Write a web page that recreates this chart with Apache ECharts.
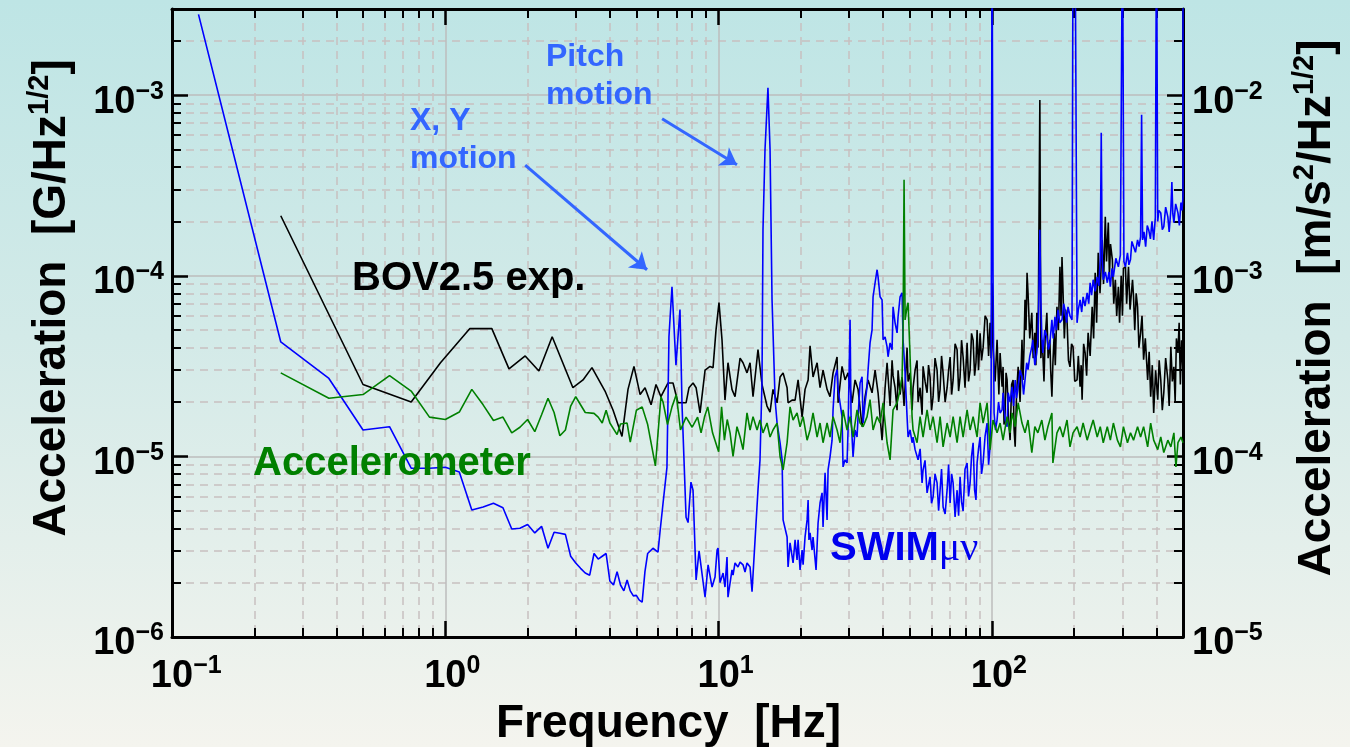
<!DOCTYPE html>
<html><head><meta charset="utf-8">
<script src="https://cdn.jsdelivr.net/npm/echarts@6/dist/echarts.min.js"></script>
<style>
html,body{margin:0;padding:0;}
#c{width:1350px;height:747px;background:linear-gradient(to bottom,#bee5e5 0%,#d3eae8 45%,#f4f4ee 100%);}
</style></head><body><div id="c"></div>
<script>
// ---------- data (frequency [Hz], acceleration [G/Hz^1/2]) ----------
const swimData = [
[0.125,2.8e-3],[0.25,4.3e-5],[0.375,2.7e-5],[0.5,1.4e-5],[0.625,1.46e-5],[0.75,8.6e-6],[0.875,8.6e-6],[1.0,8.7e-6],
[1.125,8.2e-6],[1.25,5.05e-6],[1.375,5.25e-6],[1.5,5.5e-6],[1.625,5.2e-6],[1.75,3.96e-6],[1.875,4.0e-6],[2.0,4.2e-6],
[2.125,3.77e-6],[2.25,4.1e-6],[2.375,3.1e-6],[2.5,3.8e-6],[2.625,3.75e-6],[2.75,3.7e-6],[2.875,2.8e-6],[3.0,2.57e-6],
[3.125,2.4e-6],[3.25,2.26e-6],[3.375,2.2e-6],[3.5,2.9e-6],[3.625,2.7e-6],[3.75,2.8e-6],[3.875,2.9e-6],[4.0,2.04e-6],
[4.125,1.94e-6],[4.25,2.3e-6],[4.375,1.94e-6],[4.5,1.8e-6],[4.625,2.07e-6],[4.75,1.8e-6],[4.875,1.69e-6],[5.0,1.7e-6],
[5.125,1.6e-6],[5.25,1.56e-6],[5.375,2.3e-6],[5.5,2.9e-6],[5.75,3.1e-6],[6.0,2.95e-6],[6.1,3.8e-6],[6.26,5.5e-6],
[6.47,8.7e-6],[6.58,4.6e-5],[6.75,8.7e-5],[6.98,3.2e-5],[7.22,6.5e-5],[7.35,1.88e-5],[7.6,4.6e-6],[7.73,4.3e-6],
[7.92,7.2e-6],[8.06,6.5e-6],[8.27,2.07e-6],[8.48,3.0e-6],[8.92,1.66e-6],[9.15,2.51e-6],[9.46,1.89e-6],[9.7,2.15e-6],
[9.87,3.03e-6],[9.95,3.11e-6],[10.12,2.0e-6],[10.38,2.26e-6],[10.55,1.89e-6],[10.73,2.77e-6],[10.82,1.66e-6],[11.19,2.35e-6],
[11.29,2.2e-6],[11.48,2.57e-6],[11.77,2.44e-6],[11.98,2.6e-6],[12.28,2.51e-6],[12.49,2.29e-6],[12.7,2.57e-6],[13.03,2.44e-6],
[13.25,1.78e-6],[13.36,1.78e-6],[13.59,3.45e-6],[13.93,6.52e-6],[14.17,9.57e-6],[14.41,2.6e-5],[14.53,1.8e-4],[14.78,5.0e-4],
[15.15,1.1e-3],[15.42,5.0e-4],[15.68,7.4e-5],[16.09,2.06e-5],[16.36,1.53e-5],[16.78,1.19e-5],[17.07,9.57e-6],[17.21,4.45e-6],
[17.8,3.58e-6],[17.95,2.44e-6],[18.25,3.32e-6],[18.72,2.57e-6],[19.04,3.45e-6],[19.36,2.67e-6],[19.53,3.45e-6],[19.86,2.35e-6],
[20.2,3.03e-6],[20.37,2.51e-6],[20.71,3.58e-6],[21.07,4.45e-6],[21.25,5.74e-6],[21.4,3.45e-6],[21.6,3.77e-6],[21.97,3.03e-6],
[22.15,3.58e-6],[22.72,2.35e-6],[23.11,4.28e-6],[23.5,5.52e-6],[23.9,6.28e-6],[24.1,4.07e-6],[24.51,8.11e-6],[24.93,4.45e-6],
[25.14,8.41e-6],[25.56,9.94e-6],[26.0,1.23e-5],[26.22,1.81e-5],[26.66,2.76e-5],[27.12,3.02e-5],[27.35,2.34e-5],[28.28,1.66e-5],
[28.52,8.75e-6],[29.01,9.57e-6],[29.5,9.2e-6],[29.75,1.4e-5],[30.26,5.7e-5],[30.51,1.66e-5],[31.03,9.94e-6],[31.56,1.4e-5],
[32.09,1.28e-5],[32.37,1.66e-5],[32.92,2.55e-5],[33.48,2.76e-5],[33.76,1.53e-5],[34.34,1.98e-5],[34.92,2.43e-5],[35.22,3.02e-5],
[35.81,4.25e-5],[36.42,5.02e-5],[36.73,7.65e-5],[37.36,9.15e-5],[37.99,1.08e-4],[38.31,9.87e-5],[38.96,7.65e-5],[39.62,7.36e-5],
[39.96,4.42e-5],[40.64,4.59e-5],[41.33,4.04e-5],[41.68,3.56e-5],[42.39,4.25e-5],[43.11,3.89e-5],[43.47,6.73e-5],[44.21,5.49e-5],
[44.96,4.83e-5],[45.34,5.93e-5],[46.12,7.65e-5],[46.9,8.05e-5],[47.29,4.42e-5],[48.1,2.9e-5],[48.91,1.66e-5],[49.33,1.28e-5],
[50.17,1.4e-5],[51.02,1.19e-5],[51.45,1.28e-5],[52.33,1.09e-5],[53.66,9.57e-6],[54.6,1.1e-5],[55.5,7.13e-6],[55.97,8.41e-6],
[56.9,9.5e-6],[57.89,6.28e-6],[59.35,7.7e-6],[60.1,5.5e-6],[60.9,5.97e-6],[61.9,8.0e-6],[62.98,7.13e-6],[63.8,5.0e-6],
[64.6,6.52e-6],[65.4,8.5e-6],[66.26,5.25e-6],[67.4,4.8e-6],[68.53,6.52e-6],[69.4,9.0e-6],[70.29,5.52e-6],[71.2,8.0e-6],
[72.09,7.13e-6],[73.3,4.62e-6],[74.55,6.5e-6],[75.5,4.7e-6],[76.45,7.7e-6],[77.4,5.6e-6],[78.42,4.98e-6],[79.7,8.5e-6],
[81.1,9.2e-6],[82.1,6.0e-6],[83.18,7.13e-6],[84.2,1.0e-5],[85.32,1.19e-5],[86.4,6.5e-6],[87.4,5.74e-6],[88.23,9.2e-6],
[89.3,1.1e-5],[90.49,1.28e-5],[91.6,8.0e-6],[92.81,9.2e-6],[94.4,1.3e-5],[95.99,1.53e-5],[97.2,9.0e-6],[98.45,1.13e-5],
[99.3,2.14e-5],[100.1,1e-2],[100.9,9.87e-5],[101.8,1.74e-5],[103,1.4e-5],[104.4,1.59e-5],[105.7,2.0e-5],[107.1,1.74e-5],
[108.9,1.81e-5],[109.8,2.25e-5],[111.7,1.6e-5],[113.6,1.46e-5],[114.6,2.25e-5],[116.5,2.0e-5],[118.5,2.43e-5],[120,1.9e-5],
[121.6,2.65e-5],[123,2.1e-5],[124.7,2.43e-5],[126.7,3.0e-5],[128.8,2.76e-5],[130.5,2.2e-5],[132.1,2.65e-5],[134,3.3e-5],
[135.5,3.02e-5],[137.6,3.6e-5],[139.9,4.04e-5],[141.1,4.42e-5],[143.5,3.2e-5],[145.9,3.74e-5],[147.2,4.4e-5],[148.4,7.36e-5],
[149.7,1.8e-4],[151,7.36e-5],[152.2,4.59e-5],[153.5,3.74e-5],[156,5.0e-5],[158.8,4.59e-5],[160.8,3.9e-5],[162.9,4.25e-5],
[165.7,5.7e-5],[167.5,4.5e-5],[170.0,5.93e-5],[172,5.0e-5],[174.4,6.48e-5],[177,5.5e-5],[180.4,5.7e-5],[183,7.0e-5],
[185.0,6.48e-5],[187.5,5.5e-5],[189.8,6.73e-5],[193,6.0e-5],[196.3,5.7e-5],[198.0,1e-2],[201.4,1e-2],[204.8,5.49e-5],
[207,6.5e-5],[210.1,7.36e-5],[213,6.3e-5],[215.5,7.65e-5],[219,6.8e-5],[223.0,8.05e-5],[226,7.0e-5],[228.7,9.15e-5],
[231.5,7.8e-5],[234.6,9.51e-5],[238.6,8.2e-5],[242.7,9.87e-5],[246,8.8e-5],[249.0,1.23e-4],[251.1,6.2e-4],[253.2,1.23e-4],
[255.4,9.51e-5],[260,1.05e-4],[264.2,9.15e-5],[268,1.05e-4],[271.1,8.69e-5],[275,1.1e-4],[278.1,9.87e-5],[284,1.25e-4],
[290.1,1.12e-4],[295,1.3e-4],[300.2,1e-2],[304,1.2e-4],[307.9,1.12e-4],[313.2,1.34e-4],[317,1.15e-4],[321.3,1.23e-4],
[325,1.55e-4],[329.6,1.52e-4],[335,1.35e-4],[341.0,1.58e-4],[345.5,1.45e-4],[349.8,1.64e-4],[352.8,7.8e-4],[355.8,1.58e-4],
[360,1.75e-4],[365.0,1.45e-4],[370,1.9e-4],[374.4,1.8e-4],[380,1.6e-4],[385,2.0e-4],[390.6,1.58e-4],[396,2.1e-4],
[400,1e-2],[404.1,2.0e-4],[408,2.3e-4],[414.6,2.23e-4],[420,1.8e-4],[425.3,1.87e-4],[432,2.4e-4],[440.1,2.12e-4],
[445,1.75e-4],[451.4,2.32e-4],[455.3,3.3e-4],[459,2.2e-4],[463.1,1.97e-4],[470,2.5e-4],[479.2,2.23e-4],[485,1.9e-4],
[491.5,2.54e-4],[496,2.3e-4],[499.9,2.74e-4],[500,1e-2]
];

const bovData = [
[0.25,2.15e-4],[0.5,2.5e-5],[0.75,2.0e-5],[0.96,3.3e-5],[1.23,5.1e-5],[1.48,5.1e-5],[1.71,3.05e-5],[1.96,3.6e-5],
[2.2,2.97e-5],[2.46,4.6e-5],[2.93,2.4e-5],[3.19,2.65e-5],[3.44,3.1e-5],[3.84,2.3e-5],[4.11,1.8e-5],[4.43,1.29e-5],
[4.66,2.35e-5],[4.9,3.15e-5],[5.16,2.2e-5],[5.38,2.4e-5],[5.66,1.93e-5],[5.9,2.5e-5],[6.15,2.14e-5],[6.53,2.55e-5],
[6.81,2.55e-5],[7.1,1.98e-5],[7.6,1.98e-5],[7.79,2.4e-5],[8.06,2.55e-5],[8.27,2.4e-5],[8.55,1.74e-5],[8.92,3.0e-5],
[9.3,3.15e-5],[9.54,3.1e-5],[9.78,5.0e-5],[10.03,7.1e-5],[10.29,4.4e-5],[10.55,2.05e-5],[10.82,3.3e-5],[11.19,2.35e-5],
[11.48,2.14e-5],[11.98,3.5e-5],[12.28,3.3e-5],[12.7,2.9e-5],[13.03,3.3e-5],[13.36,2.14e-5],[13.93,3.9e-5],[14.41,2.5e-5],
[15.03,1.9e-5],[15.42,1.76e-5],[15.81,2.35e-5],[16.36,1.98e-5],[16.78,2.75e-5],[17.21,2.9e-5],[17.8,2.4e-5],[17.95,1.98e-5],
[18.56,2.05e-5],[19.04,2.05e-5],[19.53,2.65e-5],[20.2,1.65e-5],[20.71,2.35e-5],[21.25,2.65e-5],[21.6,4.1e-5],[22.15,2.75e-5],
[22.92,3.3e-5],[23.5,2.4e-5],[24.1,3.0e-5],[24.93,2.35e-5],[25.56,2.14e-5],[26.22,2.9e-5],[27.12,3.55e-5],[27.35,1.98e-5],
[28.28,3.15e-5],[29.01,2.65e-5],[29.75,2.9e-5],[30.77,1.98e-5],[31.56,2.65e-5],[32.37,2.35e-5],[33.48,1.46e-5],[34.34,2.14e-5],
[35.22,2.65e-5],[36.42,2.25e-5],[37.36,3.0e-5],[38.31,2.25e-5],[39.62,1.23e-5],[40.64,2.4e-5],[41.33,3.3e-5],[41.68,2.75e-5],
[42.39,1.9e-5],[43.11,3.4e-5],[43.47,2.8e-5],[44.21,2.4e-5],[44.96,1.8e-5],[45.34,3.0e-5],[46.12,2.2e-5],[46.9,2.75e-5],
[47.69,1.9e-5],[48.91,4.0e-5],[49.33,2.6e-5],[50.17,2.9e-5],[51.02,1.8e-5],[51.45,2.4e-5],[52.33,3.0e-5],[53.21,3.4e-5],
[53.66,2.0e-5],[54.58,2.4e-5],[55.5,1.7e-5],[55.97,3.15e-5],[56.93,2.6e-5],[57.89,2.25e-5],[58.6,3.2e-5],[59.38,2.75e-5],
[60.1,1.8e-5],[60.9,2.14e-5],[61.9,3.5e-5],[62.98,3.0e-5],[63.8,2.0e-5],[64.6,2.35e-5],[65.4,3.6e-5],[66.26,2.9e-5],
[67.4,2.0e-5],[68.53,2.4e-5],[69.4,3.0e-5],[70.29,3.55e-5],[71.2,2.2e-5],[72.09,2.65e-5],[73.3,4.2e-5],[74.55,3.9e-5],
[75.5,2.3e-5],[76.45,2.75e-5],[77.4,4.4e-5],[78.42,3.55e-5],[79.7,2.4e-5],[81.1,4.25e-5],[82.1,2.6e-5],[83.18,3.0e-5],
[84.2,4.8e-5],[85.32,4.4e-5],[86.4,2.8e-5],[87.4,3.3e-5],[88.23,5.0e-5],[89.3,3.0e-5],[90.49,4.8e-5],[91.6,3.4e-5],
[92.81,4.0e-5],[94.4,6.0e-5],[95.99,5.7e-5],[97.2,3.6e-5],[98.45,5.5e-5],[99.3,3.5e-5],[100.1,9.1e-5],[100.9,4.0e-5],
[102.7,2.6e-5],[104.4,4.42e-5],[106,2.2e-5],[107.1,3.74e-5],[108.9,2.43e-5],[109.8,3.13e-5],[110.7,1.5e-5],[111.7,1.74e-5],
[112.6,2.9e-5],[113.6,2.65e-5],[115,1.6e-5],[116.5,1.23e-5],[118,2.5e-5],[119.5,2.65e-5],[120.5,1.4e-5],[121.6,1.13e-5],
[123,2.2e-5],[124.7,3.13e-5],[126.7,2.0e-5],[128.8,4.42e-5],[129.9,2.65e-5],[131,4.0e-5],[132.1,7.36e-5],[133.2,5.0e-5],
[134.4,1.04e-4],[135.5,8.05e-5],[137.5,4.5e-5],[139.9,6.24e-5],[141.5,3.5e-5],[143.5,4.83e-5],[144.8,3.2e-5],[145.9,6.24e-5],
[147.5,4.0e-5],[149.7,9.4e-4],[151,3.5e-5],[152.2,4.42e-5],[153.5,3.74e-5],[155,2.6e-5],[156.5,4.5e-5],[158.8,6.24e-5],
[160.5,3.5e-5],[162.9,4.42e-5],[164,3.0e-5],[165.7,2.14e-5],[167.1,3.3e-5],[169,4.8e-5],[170.5,3.2e-5],[172.9,6.73e-5],
[175,5.0e-5],[177.3,1.12e-4],[179,6.0e-5],[180.4,1.27e-4],[181.9,8.36e-5],[184,4.5e-5],[186,6.5e-5],[188.2,5.7e-5],
[190.5,3.4e-5],[193.0,3.13e-5],[195.5,4.2e-5],[198.0,4.04e-5],[201,2.6e-5],[204.8,2.65e-5],[207,3.6e-5],[210.1,2.43e-5],
[212,3.2e-5],[213.7,2.06e-5],[216.5,4.2e-5],[219.2,3.74e-5],[222,2.8e-5],[224.8,4.83e-5],[228.7,3.6e-5],[232.6,6.73e-5],
[235.5,4.5e-5],[238.6,1.04e-4],[241.5,5.5e-5],[244.8,1.34e-4],[248.5,8.0e-5],[253.2,1.58e-4],[256,9.0e-5],[259.8,2.12e-4],
[262.5,1.2e-4],[266.5,1.97e-4],[269,1.0e-4],[271.5,1.5e-4],[275.7,1.23e-4],[279,7.0e-5],[282.8,9.51e-5],[286,6.0e-5],
[290.1,8.69e-5],[293,5.5e-5],[297,1.0e-4],[300.2,6.0e-5],[302.7,1.1e-4],[307.9,1.12e-4],[311,7.0e-5],[315.9,1.12e-4],
[320,6.5e-5],[326.8,9.51e-5],[329.6,7.65e-5],[333,5.0e-5],[337,8.0e-5],[341.0,6.73e-5],[345,4.0e-5],[349.8,4.83e-5],
[354,6.0e-5],[358.8,3.43e-5],[364,4.5e-5],[371.2,2.65e-5],[376,3.8e-5],[380.8,2.14e-5],[386,3.2e-5],[390.6,1.74e-5],
[397,3.0e-5],[404.1,2.06e-5],[409,3.4e-5],[414.6,2.65e-5],[420,1.8e-5],[425.3,2.25e-5],[432,3.5e-5],[440.1,2.65e-5],
[445,1.9e-5],[451.4,4.04e-5],[457,2.6e-5],[463.1,3.13e-5],[468,2.0e-5],[473,4.5e-5],[479.2,3.74e-5],[484,5.5e-5],
[489,2.5e-5],[494,4.4e-5],[500,3.0e-5]
];

const accelData = [
[0.25,2.9e-5],[0.375,2.1e-5],[0.5,2.2e-5],[0.625,2.8e-5],[0.75,2.3e-5],[0.875,1.65e-5],[1.0,1.6e-5],[1.125,1.76e-5],
[1.25,2.35e-5],[1.375,1.93e-5],[1.5,1.58e-5],[1.625,1.65e-5],[1.75,1.35e-5],[1.875,1.45e-5],[2.0,1.6e-5],[2.125,1.37e-5],
[2.25,1.7e-5],[2.375,2.1e-5],[2.5,1.75e-5],[2.625,1.3e-5],[2.75,1.4e-5],[2.875,1.9e-5],[3.0,2.14e-5],[3.25,1.75e-5],
[3.5,1.73e-5],[3.625,1.65e-5],[3.75,1.53e-5],[3.875,1.8e-5],[4.0,1.53e-5],[4.25,1.32e-5],[4.375,1.51e-5],[4.625,1.53e-5],
[4.75,1.2e-5],[5.0,1.8e-5],[5.25,1.88e-5],[5.5,1.5e-5],[5.87,8.85e-6],[6.15,2.14e-5],[6.26,2.0e-5],[6.5,1.5e-5],
[6.75,1.88e-5],[7.0,2.2e-5],[7.25,1.4e-5],[7.6,1.65e-5],[8.0,1.45e-5],[8.375,1.65e-5],[8.625,1.35e-5],[8.875,1.65e-5],
[9.125,1.88e-5],[9.5,1.35e-5],[10.0,1.06e-5],[10.25,1.88e-5],[10.5,1.23e-5],[10.75,1.6e-5],[11.01,1.35e-5],[11.29,1.0e-5],
[11.67,1.46e-5],[11.98,1.28e-5],[12.28,1.09e-5],[12.7,1.74e-5],[13.03,1.4e-5],[13.36,1.66e-5],[13.82,1.4e-5],[14.17,1.59e-5],
[14.53,1.35e-5],[15.03,1.53e-5],[15.42,1.28e-5],[15.81,1.4e-5],[16.36,1.53e-5],[16.78,9.94e-6],[17.21,8.41e-6],[17.8,1.19e-5],
[18.25,1.88e-5],[18.72,1.59e-5],[19.36,1.74e-5],[19.86,1.46e-5],[20.37,1.66e-5],[21.07,1.23e-5],[21.6,1.4e-5],[22.15,1.74e-5],
[22.92,1.28e-5],[23.5,1.53e-5],[24.1,1.19e-5],[24.93,1.53e-5],[25.56,1.28e-5],[26.22,1.66e-5],[27.12,1.4e-5],[27.81,1.19e-5],
[28.52,1.81e-5],[29.5,1.4e-5],[30.26,1.66e-5],[31.03,1.28e-5],[32.09,1.81e-5],[32.92,1.53e-5],[33.76,1.46e-5],[34.92,1.66e-5],
[35.81,2.06e-5],[36.73,1.4e-5],[37.99,1.66e-5],[38.96,1.53e-5],[39.96,1.98e-5],[41.33,1.19e-5],[42.39,9.57e-6],[43.47,1.81e-5],
[44.96,1.98e-5],[46.12,2.34e-5],[46.9,2.76e-5],[47.29,5.0e-5],[47.69,3.4e-4],[48.1,5.7e-5],[48.91,6.73e-5],[49.33,7.09e-5],
[50.17,3.56e-5],[51.02,1.66e-5],[51.45,1.4e-5],[53.21,1.19e-5],[54.58,1.66e-5],[55.97,1.28e-5],[57.89,1.81e-5],[59.38,1.4e-5],
[60.9,1.66e-5],[62.98,1.19e-5],[64.6,1.66e-5],[66.26,1.13e-5],[68.53,1.53e-5],[70.29,1.28e-5],[72.09,1.66e-5],[74.55,1.19e-5],
[76.45,1.66e-5],[78.42,1.28e-5],[81.1,1.81e-5],[83.18,1.4e-5],[85.32,1.66e-5],[88.23,1.28e-5],[90.49,1.98e-5],[92.81,1.53e-5],
[95.99,1.98e-5],[98.45,1.09e-5],[100.9,1.59e-5],[104.4,1.35e-5],[107.1,1.53e-5],[109.8,1.23e-5],[113.6,1.66e-5],[116.5,1.35e-5],
[118.5,1.74e-5],[121.6,1.46e-5],[124.7,1.98e-5],[128.8,1.53e-5],[132.1,1.35e-5],[135.5,1.59e-5],[139.9,1.05e-5],[143.5,1.46e-5],
[147.2,1.35e-5],[152.2,1.59e-5],[156.2,1.23e-5],[160.2,1.46e-5],[165.7,1.74e-5],[167.1,9.2e-6],[172.9,1.35e-5],[177.3,1.46e-5],
[181.9,1.28e-5],[188.2,1.59e-5],[193.0,1.13e-5],[198.0,1.35e-5],[204.8,1.46e-5],[210.1,1.28e-5],[215.5,1.53e-5],[223.0,1.23e-5],
[228.7,1.4e-5],[234.6,1.59e-5],[242.7,1.28e-5],[249.0,1.46e-5],[255.4,1.19e-5],[264.2,1.46e-5],[271.1,1.23e-5],[278.1,1.53e-5],
[287.7,1.23e-5],[295.1,1.13e-5],[302.7,1.46e-5],[313.2,1.19e-5],[321.3,1.35e-5],[329.6,1.23e-5],[341.0,1.46e-5],[349.8,1.28e-5],
[358.8,1.46e-5],[371.2,1.13e-5],[380.8,1.53e-5],[390.6,1.23e-5],[404.1,1.09e-5],[414.6,1.28e-5],[425.3,1.05e-5],[440.1,1.23e-5],
[451.4,1.13e-5],[463.1,1.35e-5],[471.1,8.75e-6],[479.2,1.19e-5],[491.5,1.28e-5],[500,1.19e-5]
];

// tick label decades (powers of ten)
const xDecades = [-1, 0, 1, 2];
const yLeftDecades = [-6, -5, -4, -3];
const yRightDecades = [-5, -4, -3, -2];

// annotation arrows: [from [f, a], to [f, a]]
const xyArrow = [[1.96, 4.1e-4], [5.47, 1.08e-4]];
const pitchArrow = [[6.21, 7.4e-4], [11.67, 4.12e-4]];

const FONT = 'Liberation Sans, Arial, Helvetica, sans-serif';
const chart = echarts.init(document.getElementById('c'), null, {renderer: 'canvas'});

function supText(e) { return e < 0 ? '\u2212' + (-e) : String(e); }
function decadeOf(v, list) {
  const l = Math.log10(v), e = Math.round(l);
  if (Math.abs(l - e) > 1e-6 || list.indexOf(e) < 0) return null;
  return e;
}
const tickRich = {
  b: {fontSize: 38, fontWeight: 'bold', fontFamily: FONT, color: '#000', lineHeight: 46},
  s: {fontSize: 25, fontWeight: 'bold', fontFamily: FONT, color: '#000', verticalAlign: 'top', lineHeight: 24},
  p: {fontSize: 25, fontWeight: 'bold', fontFamily: FONT, color: 'rgba(0,0,0,0)', verticalAlign: 'top', lineHeight: 24}
};
const nameRich = {
  t: {fontSize: 46, fontWeight: 'bold', fontFamily: FONT, color: '#000', lineHeight: 54},
  u: {fontSize: 29, fontWeight: 'bold', fontFamily: FONT, color: '#000', verticalAlign: 'top', lineHeight: 29}
};
const axisLineStyle = {show: true, lineStyle: {color: '#000', width: 3}};
const tickStyle = {show: true, inside: true, length: 16, lineStyle: {color: '#000', width: 2.5}};
const minorTickStyle = {show: true, splitNumber: 9, length: 9, lineStyle: {color: '#000', width: 2}};
const majorGrid = {show: true, lineStyle: {color: '#bdbdbd', width: 1.5, type: 'solid'}};
const minorGrid = {show: true, lineStyle: {color: '#c8c0c0', width: 1.5, type: [8, 6]}};

const option = {
  animation: false,
  backgroundColor: 'transparent',
  grid: {left: 172, top: 9, right: 167, bottom: 110, containLabel: false, outerBoundsMode: 'none'},
  xAxis: [
    {type: 'log', logBase: 10, min: 0.1, max: 500, position: 'bottom',
     axisLine: axisLineStyle, axisTick: tickStyle, minorTick: minorTickStyle,
     splitLine: majorGrid, minorSplitLine: minorGrid,
     axisLabel: {margin: 17, rich: tickRich, formatter: v => { const e = decadeOf(v, xDecades); return e === null ? '' : '{p|' + supText(e) + '}{b|10}{s|' + supText(e) + '}'; }},
     name: '{t|Frequency  [Hz]}', nameLocation: 'middle', nameGap: 58, nameTextStyle: {rich: nameRich, padding: [0, 18, 0, 0]}},
    {type: 'log', logBase: 10, min: 0.1, max: 500, position: 'top',
     axisLine: axisLineStyle, axisTick: tickStyle, minorTick: minorTickStyle,
     splitLine: {show: false}, minorSplitLine: {show: false}, axisLabel: {show: false}}
  ],
  yAxis: [
    {type: 'log', logBase: 10, min: 1e-6, max: 3e-3, position: 'left',
     axisLine: axisLineStyle, axisTick: tickStyle, minorTick: minorTickStyle,
     splitLine: majorGrid, minorSplitLine: minorGrid,
     axisLabel: {margin: 8, padding: [14, 0, 0, 0], rich: tickRich, formatter: v => { const e = decadeOf(v, yLeftDecades); return e === null ? '' : '{b|10}{s|' + supText(e) + '}'; }},
     name: '{t|Acceleration  [G/Hz}{u|1/2}{t|]}', nameLocation: 'middle', nameRotate: 90, nameGap: 93,
     nameTextStyle: {rich: nameRich, padding: [0, 0, 0, 50]}},
    {type: 'log', logBase: 10, min: 1e-5, max: 3e-2, position: 'right',
     axisLine: axisLineStyle, axisTick: tickStyle, minorTick: minorTickStyle,
     splitLine: {show: false}, minorSplitLine: {show: false},
     axisLabel: {margin: 9, padding: [14, 0, 0, 0], rich: tickRich, formatter: v => { const e = decadeOf(v, yRightDecades); return e === null ? '' : '{b|10}{s|' + supText(e) + '}'; }},
     name: '{t|Acceleration  [m/s}{u|2}{t|/Hz}{u|1/2}{t|]}', nameLocation: 'middle', nameRotate: 90, nameGap: 107,
     nameTextStyle: {rich: nameRich, padding: [0, 0, 0, 30]}}
  ],
  series: [
    {name: 'BOV2.5 exp.', type: 'line', xAxisIndex: 0, yAxisIndex: 0, data: bovData, showSymbol: false,
     lineStyle: {color: '#000000', width: 1.6}, itemStyle: {color: '#000'}, clip: true, z: 2},
    {name: 'SWIMμν', type: 'line', xAxisIndex: 0, yAxisIndex: 0, data: swimData, showSymbol: false,
     lineStyle: {color: '#0000ff', width: 1.6}, itemStyle: {color: '#0000ff'}, clip: true, z: 3},
    {name: 'Accelerometer', type: 'line', xAxisIndex: 0, yAxisIndex: 0, data: accelData, showSymbol: false,
     lineStyle: {color: '#008000', width: 1.6}, itemStyle: {color: '#008000'}, clip: true, z: 4,
     markLine: {silent: true, symbol: ['none', 'arrow'], symbolSize: 16, label: {show: false},
       lineStyle: {color: '#3366ff', width: 3, type: 'solid'}, emphasis: {disabled: true},
       data: [
         [{coord: xyArrow[0]}, {coord: xyArrow[1]}],
         [{coord: pitchArrow[0]}, {coord: pitchArrow[1]}]
       ]}}
  ],
  graphic: [
    {type: 'text', left: 352, top: 259, z: 10, style: {text: 'BOV2.5 exp.', font: 'bold 40px ' + FONT, fill: '#000'}},
    {type: 'text', left: 253, top: 444, z: 10, style: {text: 'Accelerometer', font: 'bold 40px ' + FONT, fill: '#008000'}},
    {type: 'text', left: 830, top: 529, z: 10, style: {text: '{a|SWIM}{g|μν}', rich: {
      a: {font: 'bold 40px ' + FONT, fill: '#0000ee'},
      g: {font: '40px "Liberation Serif", "Times New Roman", serif', fill: '#0000ee'}}}},
    {type: 'text', left: 546, top: 38, z: 10, style: {text: 'Pitch\nmotion', font: 'bold 32px ' + FONT, fill: '#3366ff', lineHeight: 38}},
    {type: 'text', left: 410, top: 102, z: 10, style: {text: 'X, Y\nmotion', font: 'bold 32px ' + FONT, fill: '#3366ff', lineHeight: 38}}
  ]
};
chart.setOption(option);
</script></body></html>
